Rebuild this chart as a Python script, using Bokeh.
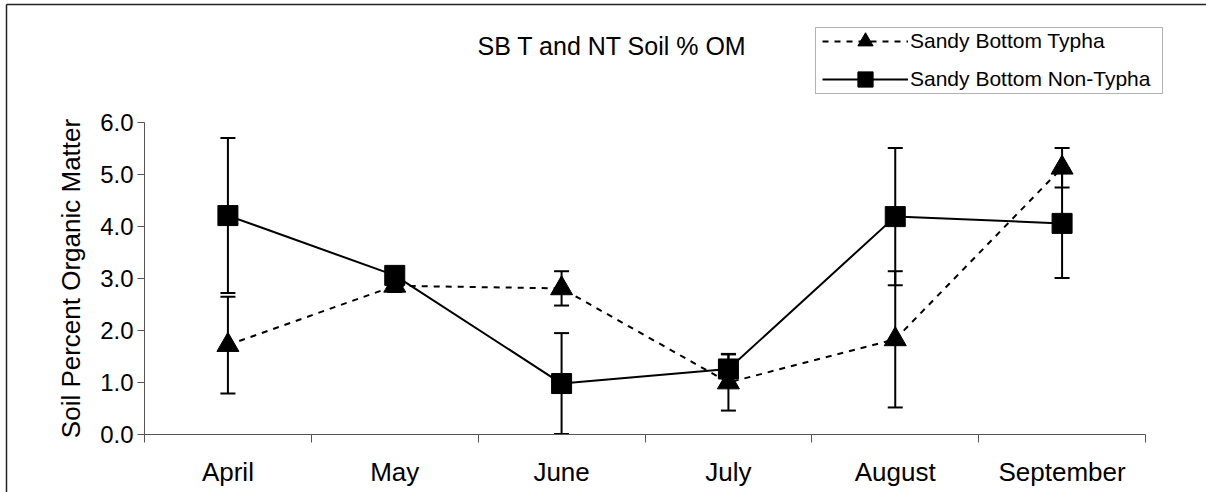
import numpy as np
from bokeh.plotting import figure
from bokeh.models import (ColumnDataSource, Range1d, FixedTicker, Whisker, TeeHead,
                          Legend, LegendItem, Label, PolyAnnotation, Arrow,
                          PrintfTickFormatter)
from bokeh.embed import file_html
from bokeh.resources import INLINE

# Monthly soil organic matter (%) at Sandy Bottom, mean and error
months = ["April", "May", "June", "July", "August", "September"]
typha = [1.72, 2.86, 2.81, 1.00, 1.83, 5.13]
typha_err = [0.93, 0.12, 0.33, 0.54, 1.31, 0.38]
non_typha = [4.21, 3.06, 0.98, 1.26, 4.19, 4.06]
non_typha_err = [1.49, 0.15, 0.97, 0.29, 1.32, 1.05]
y_ticks = [0, 1, 2, 3, 4, 5, 6]

FONT = "Liberation Sans"
AXIS_GREY = "#555555"
W, H = 1206, 492
# pixel box of the plotting area inside the chart
PLOT_L, PLOT_R, PLOT_T, PLOT_B = 144, 1145, 122, 434

n_cat = len(months)
y_lo, y_hi = y_ticks[0], y_ticks[-1]
px_x = (PLOT_R - PLOT_L) / n_cat
px_y = (PLOT_B - PLOT_T) / (y_hi - y_lo)

# the frame spans the whole chart so the title, legend and border are not clipped;
# axes are pinned at the plotting-area edges instead
x_range = Range1d(-PLOT_L / px_x, n_cat + (W - PLOT_R) / px_x)
y_range = Range1d(y_lo - (H - PLOT_B) / px_y, y_hi + PLOT_T / px_y)

# months sit at the centre of each unit-wide slot; ticks mark the slot edges
x = np.arange(n_cat) + 0.5
edges = list(range(n_cat + 1))

p = figure(width=W, height=H, output_backend="svg", toolbar_location=None,
           x_range=x_range, y_range=y_range, min_border=0)
p.background_fill_color = "white"
p.border_fill_color = "white"
p.outline_line_color = None
p.xgrid.visible = False
p.ygrid.visible = False

xa = p.xaxis[0]
xa.fixed_location = y_lo
xa.bounds = (0, n_cat)
xa.ticker = FixedTicker(ticks=list(x), minor_ticks=edges)
xa.major_label_overrides = {float(xi): m for xi, m in zip(x, months)}
xa.major_tick_out = 0
xa.major_tick_in = 0
xa.minor_tick_out = 8
xa.minor_tick_in = 0
xa.minor_tick_line_color = AXIS_GREY
xa.axis_line_color = AXIS_GREY
xa.major_label_text_font = FONT
xa.major_label_text_font_size = "26px"
xa.major_label_text_color = "black"
xa.major_label_standoff = 14

ya = p.yaxis[0]
ya.fixed_location = 0
ya.bounds = (y_lo, y_hi)
ya.ticker = FixedTicker(ticks=y_ticks)
ya.formatter = PrintfTickFormatter(format="%.1f")
ya.major_tick_out = 7
ya.major_tick_in = 0
ya.minor_tick_out = 0
ya.minor_tick_in = 0
ya.major_tick_line_color = AXIS_GREY
ya.axis_line_color = AXIS_GREY
ya.major_label_text_font = FONT
ya.major_label_text_font_size = "24px"
ya.major_label_text_color = "black"
ya.major_label_standoff = 4
ya.axis_label = "Soil Percent Organic Matter"
ya.axis_label_text_font = FONT
ya.axis_label_text_font_size = "26px"
ya.axis_label_text_font_style = "normal"
ya.axis_label_text_color = "black"
ya.axis_label_standoff = 11

src_t = ColumnDataSource(dict(
    x=x, y=typha,
    lower=[v - e for v, e in zip(typha, typha_err)],
    upper=[v + e for v, e in zip(typha, typha_err)]))
src_n = ColumnDataSource(dict(
    x=x, y=non_typha,
    lower=[v - e for v, e in zip(non_typha, non_typha_err)],
    upper=[v + e for v, e in zip(non_typha, non_typha_err)]))

for src in (src_t, src_n):
    p.add_layout(Whisker(source=src, base="x", lower="lower", upper="upper",
                         dimension="height", line_color="black", line_width=2,
                         upper_head=TeeHead(size=15, line_color="black", line_width=2),
                         lower_head=TeeHead(size=15, line_color="black", line_width=2),
                         level="underlay"))

t_line = p.line("x", "y", source=src_t, line_color="black", line_width=2, line_dash="6 6")
t_mark = p.scatter("x", "y", source=src_t, marker="triangle", size=22,
                   fill_color="black", line_color="black")
n_line = p.line("x", "y", source=src_n, line_color="black", line_width=2)
n_mark = p.scatter("x", "y", source=src_n, marker="square", size=20,
                   fill_color="black", line_color="black")

legend = Legend(items=[LegendItem(label="Sandy Bottom Typha", renderers=[t_line, t_mark]),
                       LegendItem(label="Sandy Bottom Non-Typha", renderers=[n_line, n_mark])],
                location=(822, H - 98), glyph_width=86, glyph_height=38, spacing=-2,
                padding=0, margin=0, label_standoff=2,
                label_text_font=FONT, label_text_font_size="21px",
                label_text_color="black", border_line_color=None,
                background_fill_alpha=0)
p.add_layout(legend)

# legend frame
p.add_layout(PolyAnnotation(xs=[815, 1162, 1162, 815], ys=[27, 27, 93, 93],
                            xs_units="canvas", ys_units="canvas",
                            fill_alpha=0, line_color="black", line_width=1))

# chart border: only its top and left edges fall inside the picture
for x0, y0, x1, y1 in [(6, H - 4, W, H - 4), (6, H - 4, 6, 0)]:
    p.add_layout(Arrow(start=None, end=None, x_start=x0, y_start=y0, x_end=x1, y_end=y1,
                       start_units="screen", end_units="screen",
                       line_color="#222222", line_width=1.5))

# keep the right and bottom edges of the picture blank
for x0, y0, x1, y1 in [(W - 1, 0, W - 1, H - 6), (8, 1, W, 1)]:
    p.add_layout(Arrow(start=None, end=None, x_start=x0, y_start=y0, x_end=x1, y_end=y1,
                       start_units="screen", end_units="screen",
                       line_color="white", line_width=4, level="overlay"))

p.add_layout(Label(x=477, y=H - 45, x_units="screen", y_units="screen",
                   text="SB T and NT Soil % OM", text_font=FONT, text_font_size="25px",
                   text_color="black", text_align="left", text_baseline="alphabetic"))

open("out.html", "w").write(file_html(p, INLINE))
